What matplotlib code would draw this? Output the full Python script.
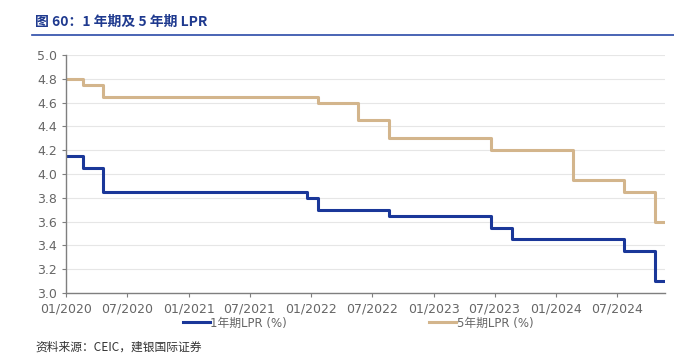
import matplotlib
matplotlib.use("Agg")
import matplotlib.pyplot as plt
import matplotlib.dates as mdates
import pandas as pd

plt.rcParams['font.family'] = ['DejaVu Sans', 'Noto Sans CJK SC']

change_dates = ['2020-01-01', '2020-02-20', '2020-04-20', '2021-12-20', '2022-01-20',
                '2022-05-20', '2022-08-22', '2023-06-20', '2023-08-21', '2024-02-20',
                '2024-07-22', '2024-10-21', '2024-11-20']
lpr_1y = [4.15, 4.05, 3.85, 3.80, 3.70, 3.70, 3.65, 3.55, 3.45, 3.45, 3.35, 3.10, 3.10]
lpr_5y = [4.80, 4.75, 4.65, 4.65, 4.60, 4.45, 4.30, 4.20, 4.20, 3.95, 3.85, 3.60, 3.60]
tick_dates = ['2020-01-01', '2020-07-01', '2021-01-01', '2021-07-01', '2022-01-01',
              '2022-07-01', '2023-01-01', '2023-07-01', '2024-01-01', '2024-07-01']
series_names = ['1年期LPR (%)', '5年期LPR (%)']
title = '图 60：1 年期及 5 年期 LPR'
source = '资料来源：CEIC，建银国际证券'

dates = pd.to_datetime(change_dates)
ticks = pd.to_datetime(tick_dates)

fig = plt.figure(figsize=(6.74, 3.60), dpi=100)
ax = fig.add_axes([66/674, 1-293/360, (665-66)/674, (293-55)/360])

c1 = '#1a3799'
c5 = '#d3b58c'
ax.step(dates, lpr_1y, where='post', color=c1, lw=2.2, label=series_names[0])
ax.step(dates, lpr_5y, where='post', color=c5, lw=2.2, label=series_names[1])

ax.set_xlim(dates[0], dates[-1])
ax.set_ylim(3.0, 5.0)
ax.set_yticks([3.0 + 0.2*i for i in range(11)])
ax.yaxis.set_major_formatter(matplotlib.ticker.FormatStrFormatter('%.1f'))
ax.set_xticks(ticks)
ax.xaxis.set_major_formatter(mdates.DateFormatter('%m/%Y'))
ax.grid(axis='y', color='#e6e6e6', lw=0.8)
ax.set_axisbelow(True)
for s in ['top', 'right']:
    ax.spines[s].set_visible(False)
for s in ['left', 'bottom']:
    ax.spines[s].set_color('#7f7f7f')
    ax.spines[s].set_linewidth(1.0)
ax.tick_params(axis='both', colors='#7f7f7f', labelcolor='#666666', labelsize=9, length=3, direction='out')
ax.tick_params(axis='x', pad=4)

leg = fig.legend(loc='center', bbox_to_anchor=(358/674, 1-323/360), ncol=2, frameon=False,
                 handlelength=2.3, handletextpad=0.05, columnspacing=12.0,
                 prop={'family': ['DejaVu Sans', 'Noto Sans CJK SC'], 'size': 8.5})
for t in leg.get_texts():
    t.set_color('#666666')

fig.text(35/674, 1-22/360, title, fontsize=10, fontweight='bold', color='#1f3a8f',
         va='center', ha='left', family=['Noto Sans CJK SC', 'DejaVu Sans'])
fig.add_artist(plt.Line2D([32/674, 1.0], [1-35/360, 1-35/360], color='#2a4aa8', lw=1.2))
fig.text(35/674, 1-347/360, source, fontsize=8.5, style='italic', color='#333333',
         va='center', ha='left', family=['Noto Sans CJK SC', 'DejaVu Sans'])

fig.savefig('out.png', dpi=100)
